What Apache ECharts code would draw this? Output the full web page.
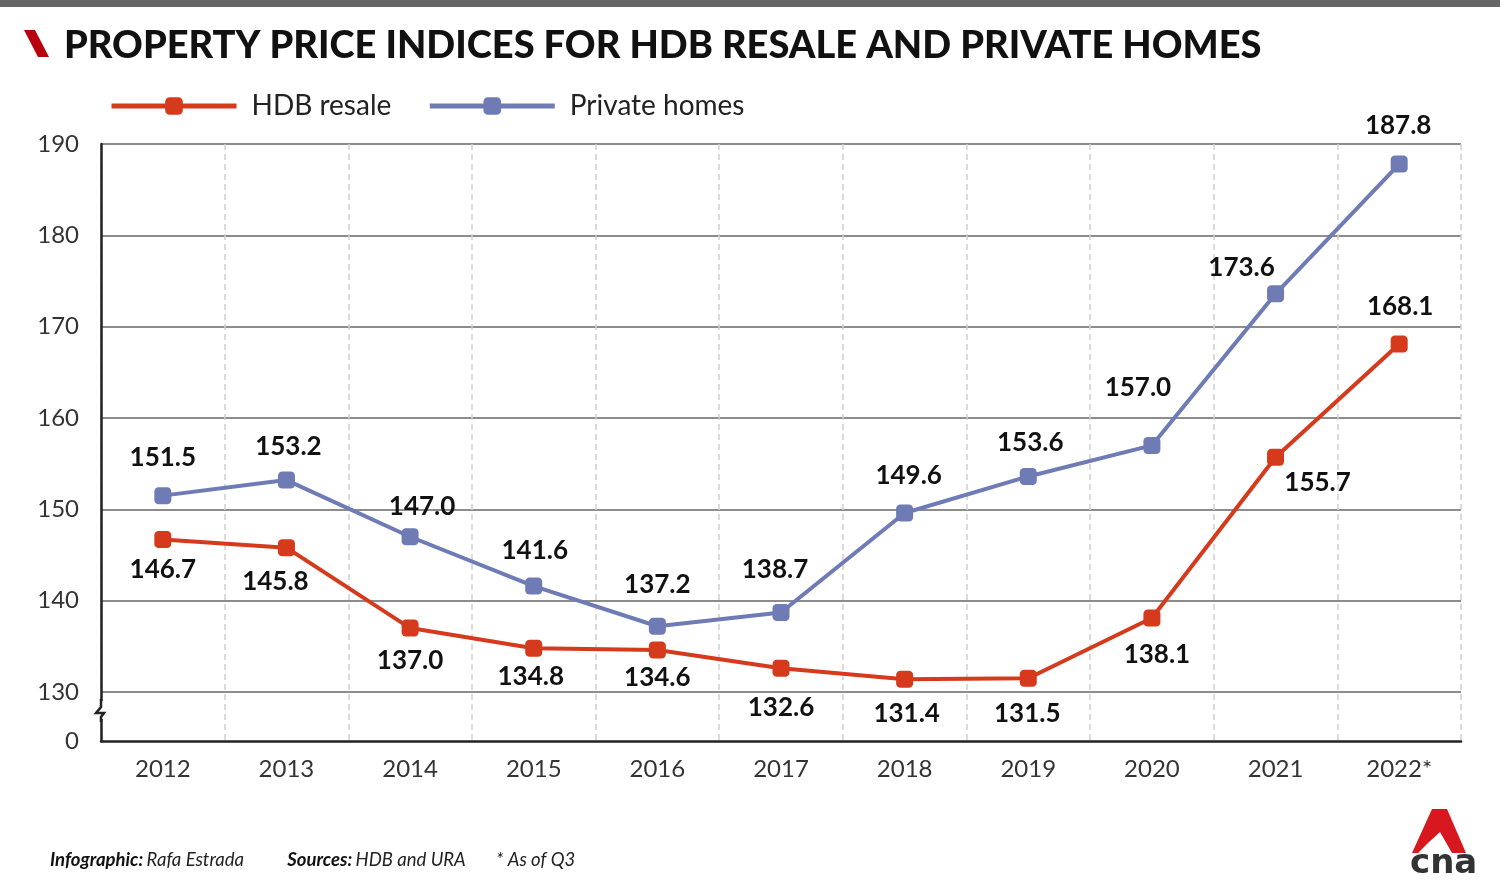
<!DOCTYPE html>
<html><head><meta charset="utf-8">
<script src="https://cdn.jsdelivr.net/npm/echarts@6/dist/echarts.min.js"></script>
<style>html,body{margin:0;padding:0;background:#fff}#c{width:1500px;height:894px}</style>
</head><body><div id="c"></div>
<script>
const years = ['2012','2013','2014','2015','2016','2017','2018','2019','2020','2021','2022*'];
const hdbResale = [146.7,145.8,137.0,134.8,134.6,132.6,131.4,131.5,138.1,155.7,168.1];
const privateHomes = [151.5,153.2,147.0,141.6,137.2,138.7,149.6,153.6,157.0,173.6,187.8];
const yTicks = [130,140,150,160,170,180,190];

// label placement (style, not data)
const hdbOff = [[0,30],[-11,34],[0,33],[-3,28],[0,28],[0,39],[2,34],[-1,35],[5,37],[42,25],[1,-37]];
const prvOff = [[0,-38],[2,-33],[12,-30],[1,-35],[0,-42],[-6,-43],[4,-37],[2,-34],[-14,-58],[-34,-26],[-1,-38]];

const RED = '#d63a1c', BLUE = '#6e7bb4';
const FONT = 'Lato, "Open Sans", sans-serif';

function mk(vals, offs){
  return vals.map((v,i)=>({value:v, label:{offset:offs[i]}}));
}

const chart = echarts.init(document.getElementById('c'));
const labelStyle = {show:true, position:'inside', formatter:p=>p.value.toFixed(1), fontFamily:FONT, fontWeight:'bold', fontSize:26, color:'#111'};
chart.setOption({
  animation:false,
  textStyle:{fontFamily:FONT},
  title:{text:'PROPERTY PRICE INDICES FOR HDB RESALE AND PRIVATE HOMES', left:59, top:22,
    textStyle:{fontFamily:FONT, fontWeight:900, fontSize:38, color:'#111'}},
  legend:{left:104, top:87, itemWidth:125, itemHeight:22, itemGap:36,
    lineStyle:{width:5},
    textStyle:{fontSize:28, color:'#222', fontFamily:FONT, padding:[0,0,0,10]},
    data:['HDB resale','Private homes']},
  grid:[
    {left:101, right:39, top:144, bottom:153},
    {left:101, right:39, top:144, bottom:202}
  ],
  xAxis:[
    {type:'category', gridIndex:0, data:years, boundaryGap:true,
      axisLine:{lineStyle:{color:'#222', width:2.5}}, axisTick:{show:false},
      axisLabel:{fontSize:24, color:'#333', margin:16, fontFamily:FONT},
      splitLine:{show:true, lineStyle:{type:[6,4], color:'#d0d0d0', width:1.5}}},
    {type:'category', gridIndex:1, data:years, boundaryGap:true, show:false}
  ],
  yAxis:[
    {type:'value', gridIndex:0, min:0, max:1, interval:1,
      axisLine:{show:true, lineStyle:{color:'#222', width:2.5}}, axisTick:{show:false},
      axisLabel:{formatter:v=>v===0?'0':'', fontSize:24, color:'#333', margin:22, fontFamily:FONT},
      splitLine:{show:false}},
    {type:'value', gridIndex:1, min:130, max:190, interval:10,
      axisLine:{show:false}, axisTick:{show:false},
      axisLabel:{fontSize:24, color:'#333', margin:22, fontFamily:FONT, formatter:v=>yTicks.includes(v)?String(v):''},
      splitLine:{show:true, lineStyle:{color:'#666', width:1.5}}}
  ],
  series:[
    {name:'HDB resale', type:'line', xAxisIndex:1, yAxisIndex:1, data:mk(hdbResale,hdbOff),
      symbol:'roundRect', symbolSize:17, lineStyle:{color:RED, width:4}, itemStyle:{color:RED},
      label:labelStyle, z:3},
    {name:'Private homes', type:'line', xAxisIndex:1, yAxisIndex:1, data:mk(privateHomes,prvOff),
      symbol:'roundRect', symbolSize:17, lineStyle:{color:BLUE, width:4}, itemStyle:{color:BLUE},
      label:labelStyle, z:4}
  ],
  graphic:[
    {type:'rect', shape:{x:0,y:0,width:1500,height:7}, style:{fill:'#666'}},
    {type:'polygon', shape:{points:[[24,30],[35,30],[49,57],[38,57]]}, style:{fill:'#b8000f'}},
    {type:'rect', shape:{x:95,y:701,width:12,height:18}, style:{fill:'#fff'}, z:100},
    {type:'polyline', shape:{points:[[101,699],[101,707],[96,713],[104,713],[101,717],[101,722]]}, style:{stroke:'#222', lineWidth:2.5, fill:null}, z:101},
    {type:'text', left:50, top:851, style:{rich:{b:{fontStyle:'italic',fontWeight:'bold',fontSize:18.5,fill:'#111',fontFamily:FONT}, n:{fontStyle:'italic',fontSize:18.5,fill:'#222',fontFamily:FONT}},
      text:'{b|Infographic:} {n|Rafa Estrada}{n|          }{b|Sources:} {n|HDB and URA}{n|       * As of Q3}'}},
    {type:'polygon', shape:{points:[[1432,809],[1447,809],[1466,853],[1452,853],[1440,832],[1428,843],[1418,853],[1412,853]]}, style:{fill:'#d8181f'}},
    {type:'text', left:1410, top:847, style:{text:'cna', fontSize:34, fontWeight:'bold', fill:'#333', fontFamily:'"DejaVu Sans", sans-serif'}}
  ]
});
</script></body></html>
